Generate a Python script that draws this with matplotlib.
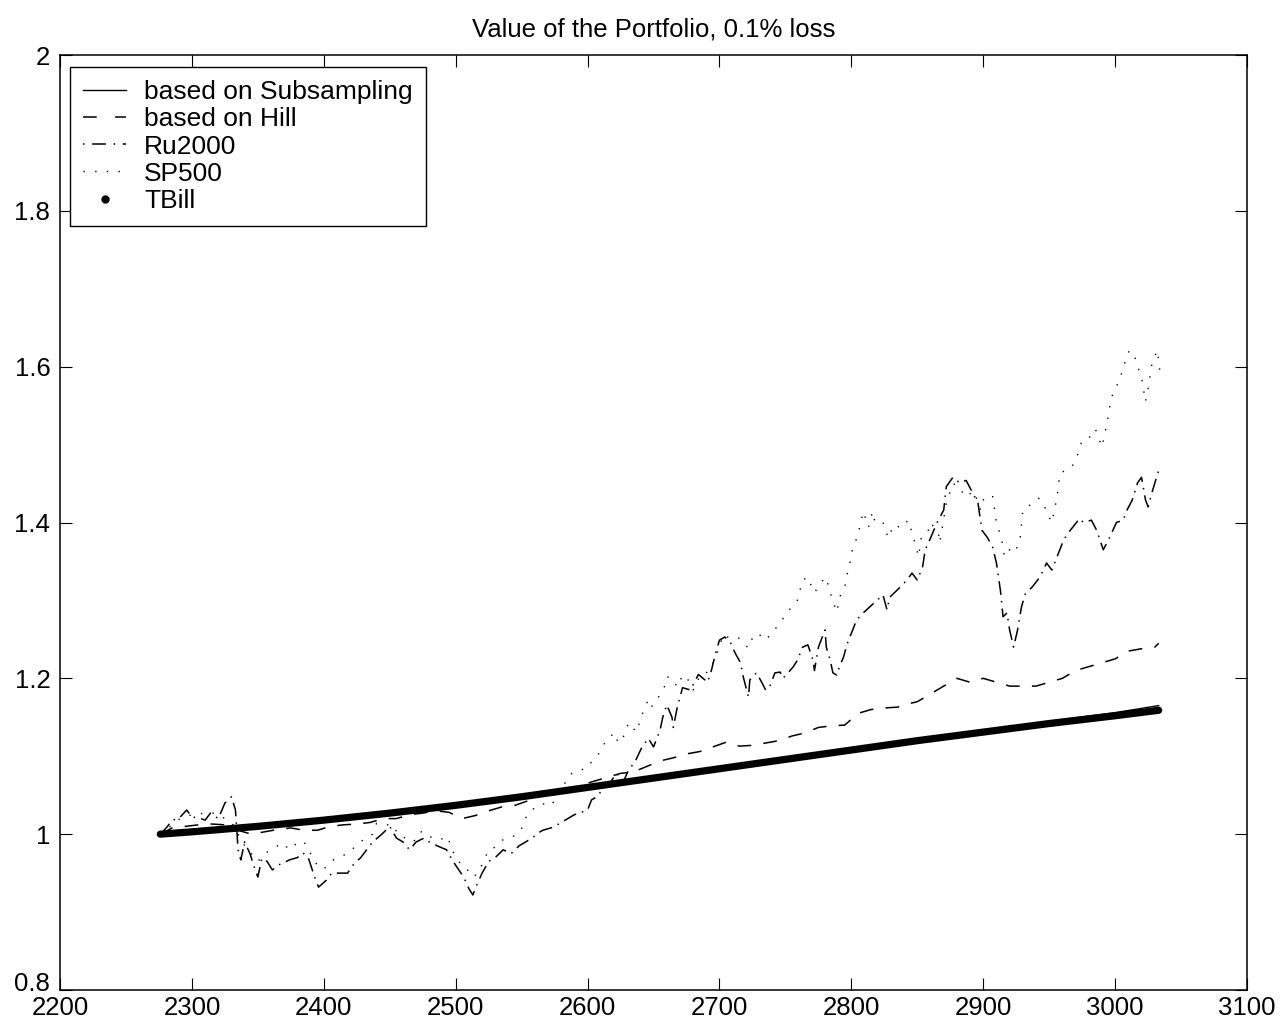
import matplotlib
matplotlib.use("Agg")
import matplotlib.pyplot as plt
from matplotlib.lines import Line2D
from matplotlib.transforms import ScaledTranslation

plt.rcParams['font.family'] = ['Liberation Sans', 'DejaVu Sans']

# ---- data ----
tbill_x = [2276, 2300, 2350, 2400, 2450, 2500, 2550, 2600, 2650, 2700, 2750, 2800, 2850, 2900, 2950, 3000, 3033]
tbill_y = [1.000, 1.003, 1.010, 1.018, 1.027, 1.037, 1.048, 1.060, 1.072, 1.084, 1.096, 1.108, 1.120, 1.131, 1.142, 1.152, 1.159]

subs_x = [2276, 2300, 2350, 2400, 2450, 2500, 2550, 2600, 2650, 2700, 2750, 2800, 2850, 2900, 2950, 3000, 3033]
subs_y = [1.000, 1.003, 1.010, 1.018, 1.027, 1.037, 1.048, 1.060, 1.072, 1.085, 1.097, 1.109, 1.121, 1.133, 1.145, 1.156, 1.165]

hill_x = [2276, 2285, 2295, 2305, 2315, 2325, 2335, 2345, 2355, 2365, 2375, 2385, 2395, 2405, 2415,
          2425, 2435, 2445, 2455, 2465, 2475, 2485, 2495, 2505, 2515, 2525, 2535, 2545, 2555, 2565,
          2575, 2585, 2595, 2605, 2615, 2625, 2635, 2645, 2655, 2665, 2675, 2685, 2695, 2705, 2715,
          2725, 2735, 2745, 2755, 2765, 2775, 2785, 2795, 2805, 2815, 2825, 2835, 2845, 2850, 2860,
          2870, 2880, 2890, 2900, 2910, 2920, 2930, 2940, 2950, 2960, 2970, 2980, 2990, 3000, 3010,
          3020, 3030, 3033]
hill_y = [1.000, 1.008, 1.010, 1.012, 1.013, 1.012, 1.005, 1.000, 1.003, 1.006, 1.008, 1.005, 1.005, 1.010, 1.012,
          1.013, 1.015, 1.020, 1.020, 1.025, 1.027, 1.030, 1.028, 1.020, 1.024, 1.030, 1.035, 1.037, 1.043, 1.050,
          1.055, 1.058, 1.063, 1.068, 1.073, 1.078, 1.080, 1.087, 1.094, 1.098, 1.103, 1.106, 1.112, 1.118, 1.113,
          1.114, 1.117, 1.120, 1.126, 1.130, 1.137, 1.139, 1.140, 1.155, 1.160, 1.162, 1.163, 1.168, 1.170, 1.180,
          1.190, 1.200, 1.195, 1.200, 1.195, 1.190, 1.190, 1.190, 1.195, 1.200, 1.210, 1.215, 1.220, 1.225, 1.235,
          1.238, 1.240, 1.245]

ru_x = [2276, 2281, 2285, 2290, 2296, 2300, 2305, 2310, 2314, 2320, 2325, 2330, 2333, 2335, 2337, 2340, 2344,
        2348, 2350, 2353, 2357, 2361, 2365, 2369, 2374, 2380, 2384, 2388, 2393, 2396, 2402, 2406, 2412, 2418,
        2422, 2428, 2437, 2444, 2450, 2455, 2460, 2465, 2470, 2476, 2480, 2486, 2493, 2498, 2502, 2506, 2510,
        2513, 2516, 2520, 2525, 2530, 2536, 2542, 2548, 2553, 2558, 2562, 2566, 2574, 2581, 2590, 2600, 2603,
        2607, 2613, 2617, 2622, 2627, 2631, 2636, 2641, 2646, 2650, 2655, 2657, 2660, 2664, 2665, 2668, 2672,
        2678, 2684, 2691, 2694, 2697, 2700, 2704, 2708, 2712, 2716, 2718, 2722, 2723, 2728, 2732, 2735, 2738,
        2742, 2746, 2748, 2752, 2756, 2759, 2763, 2767, 2771, 2772, 2775, 2778, 2780, 2781, 2784, 2786, 2789,
        2791, 2794, 2797, 2800, 2804, 2809, 2818, 2824, 2827, 2829, 2837, 2842, 2846, 2850, 2854, 2856, 2860,
        2865, 2870, 2872, 2877, 2882, 2887, 2892, 2896, 2899, 2903, 2907, 2910, 2913, 2915, 2918, 2920, 2923,
        2926, 2929, 2932, 2937, 2943, 2948, 2952, 2956, 2961, 2966, 2973, 2976, 2982, 2986, 2991, 2995, 3001,
        3006, 3009, 3013, 3017, 3020, 3023, 3025, 3028, 3033]
ru_y = [1.000, 1.009, 1.018, 1.020, 1.031, 1.022, 1.021, 1.018, 1.027, 1.020, 1.040, 1.048, 1.031, 0.980, 0.967, 0.990, 0.975,
        0.954, 0.945, 0.969, 0.965, 0.954, 0.960, 0.963, 0.967, 0.970, 0.976, 0.971, 0.945, 0.932, 0.941, 0.950, 0.950, 0.950,
        0.960, 0.970, 0.990, 1.000, 1.010, 0.995, 0.990, 0.980, 0.990, 0.995, 0.990, 0.985, 0.980, 0.965, 0.955, 0.945, 0.930,
        0.922, 0.935, 0.950, 0.965, 0.970, 0.980, 0.975, 0.985, 0.990, 0.995, 1.001, 1.005, 1.009, 1.016, 1.025, 1.031, 1.044,
        1.048, 1.061, 1.066, 1.078, 1.067, 1.082, 1.093, 1.111, 1.123, 1.112, 1.134, 1.150, 1.166, 1.150, 1.137, 1.163, 1.188,
        1.185, 1.205, 1.195, 1.211, 1.232, 1.249, 1.253, 1.247, 1.232, 1.220, 1.202, 1.176, 1.198, 1.207, 1.195, 1.185, 1.189,
        1.207, 1.208, 1.200, 1.207, 1.215, 1.223, 1.240, 1.243, 1.223, 1.210, 1.240, 1.253, 1.262, 1.240, 1.223, 1.207, 1.204,
        1.215, 1.227, 1.245, 1.258, 1.275, 1.284, 1.298, 1.307, 1.288, 1.304, 1.317, 1.326, 1.335, 1.326, 1.343, 1.365, 1.380,
        1.400, 1.416, 1.446, 1.458, 1.451, 1.454, 1.438, 1.425, 1.390, 1.381, 1.369, 1.348, 1.313, 1.279, 1.284, 1.262, 1.240,
        1.262, 1.292, 1.309, 1.317, 1.330, 1.348, 1.339, 1.356, 1.378, 1.390, 1.405, 1.400, 1.403, 1.390, 1.365, 1.378, 1.400,
        1.403, 1.416, 1.429, 1.451, 1.458, 1.429, 1.420, 1.439, 1.467]

sp_x = [2276, 2282, 2291, 2300, 2310, 2318, 2325, 2330, 2335, 2340, 2345, 2350, 2355, 2360, 2365, 2370, 2375, 2380,
        2385, 2390, 2395, 2400, 2405, 2412, 2418, 2425, 2430, 2437, 2440, 2448, 2452, 2457, 2462, 2468, 2473, 2477,
        2482, 2488, 2494, 2497, 2501, 2505, 2509, 2513, 2517, 2521, 2525, 2531, 2536, 2541, 2547, 2551, 2554, 2558,
        2562, 2566, 2573, 2579, 2584, 2588, 2594, 2600, 2603, 2608, 2612, 2615, 2621, 2623, 2628, 2631, 2637, 2643,
        2646, 2648, 2653, 2655, 2659, 2660, 2664, 2668, 2672, 2675, 2680, 2683, 2685, 2691, 2694, 2698, 2703, 2706,
        2714, 2718, 2722, 2725, 2729, 2735, 2740, 2746, 2751, 2755, 2759, 2763, 2767, 2770, 2772, 2780, 2782, 2785,
        2789, 2791, 2795, 2797, 2799, 2801, 2805, 2809, 2813, 2816, 2818, 2824, 2828, 2832, 2838, 2843, 2847, 2851,
        2853, 2858, 2860, 2866, 2867, 2872, 2877, 2882, 2886, 2893, 2898, 2900, 2907, 2910, 2914, 2916, 2920, 2924,
        2928, 2930, 2935, 2942, 2945, 2949, 2952, 2956, 2958, 2967, 2971, 2975, 2981, 2985, 2990, 2994, 2997, 3001,
        3005, 3009, 3011, 3015, 3017, 3020, 3023, 3025, 3028, 3032, 3034]
sp_y = [1.000, 1.008, 1.020, 1.025, 1.027, 1.027, 1.020, 1.015, 1.000, 0.985, 0.975, 0.965, 0.975, 0.980, 0.985, 0.980, 0.990, 0.985,
        0.990, 0.975, 0.960, 0.955, 0.965, 0.971, 0.975, 0.986, 0.993, 1.000, 1.014, 1.012, 1.012, 0.998, 0.995, 0.990, 1.003, 1.003,
        0.995, 0.993, 0.997, 0.980, 0.969, 0.958, 0.954, 0.945, 0.950, 0.965, 0.980, 0.984, 0.993, 0.995, 1.000, 1.010, 1.025, 1.031,
        1.037, 1.039, 1.037, 1.061, 1.067, 1.078, 1.082, 1.085, 1.093, 1.102, 1.114, 1.123, 1.130, 1.117, 1.127, 1.143, 1.131, 1.162,
        1.172, 1.163, 1.172, 1.182, 1.191, 1.202, 1.200, 1.189, 1.204, 1.202, 1.185, 1.194, 1.204, 1.208, 1.215, 1.232, 1.256, 1.253,
        1.253, 1.245, 1.239, 1.252, 1.258, 1.249, 1.259, 1.271, 1.284, 1.292, 1.300, 1.326, 1.330, 1.317, 1.310, 1.330, 1.322, 1.304,
        1.285, 1.304, 1.317, 1.335, 1.349, 1.367, 1.384, 1.414, 1.394, 1.414, 1.400, 1.400, 1.380, 1.397, 1.393, 1.403, 1.381, 1.356,
        1.381, 1.388, 1.400, 1.386, 1.374, 1.425, 1.450, 1.446, 1.433, 1.440, 1.416, 1.429, 1.435, 1.400, 1.378, 1.356, 1.365, 1.361,
        1.380, 1.416, 1.422, 1.431, 1.427, 1.410, 1.400, 1.433, 1.463, 1.471, 1.484, 1.506, 1.510, 1.520, 1.497, 1.529, 1.560, 1.574,
        1.592, 1.615, 1.621, 1.612, 1.600, 1.587, 1.555, 1.572, 1.605, 1.621, 1.593]

labels = ['based on Subsampling', 'based on Hill', 'Ru2000', 'SP500', 'TBill']
x_ticks = [2200, 2300, 2400, 2500, 2600, 2700, 2800, 2900, 3000, 3100]
y_ticks = [0.8, 1.0, 1.2, 1.4, 1.6, 1.8, 2.0]
y_ticklabels = ['0.8', '1', '1.2', '1.4', '1.6', '1.8', '2']
title = 'Value of the Portfolio, 0.1% loss'

DASH = (0, (9, 8))
DASHDOT = (0, (9, 4, 1, 4))
DOT = (0, (1, 7.4))

# ---- figure ----
fig = plt.figure(figsize=(12.86, 10.32), dpi=100)
ax = fig.add_axes([0.0467, 0.0407, 0.9230, 0.9060])

ax.plot(tbill_x, tbill_y, color='black', lw=5.2, solid_capstyle='round', zorder=2)
ax.plot(subs_x, subs_y, color='black', lw=1.0, ls='-', zorder=3)
ax.plot(hill_x, hill_y, color='black', lw=1.1, ls=DASH, zorder=3)
ax.plot(ru_x, ru_y, color='black', lw=1.1, ls=DASHDOT, zorder=3)
ax.plot(sp_x, sp_y, color='black', lw=1.0, ls=DOT, zorder=3)

ax.set_xlim(2200, 3100)
ax.set_ylim(0.8, 2.0)
ax.set_xticks(x_ticks)
ax.set_yticks(y_ticks)
ax.set_yticklabels(y_ticklabels)
ax.tick_params(direction='in', length=8.6, width=0.8, top=True, right=True,
               labelsize=18.5, colors='black')
ax.tick_params(axis='x', pad=4)
ax.tick_params(axis='y', pad=7)
for s in ax.spines.values():
    s.set_linewidth(1.1)
    s.set_color('black')
ax.set_title(title, fontsize=18.5, pad=13)

# nudge the lowest y label up slightly, as in the reference where it sits above "2200"
ylabels = ax.get_yticklabels()
ylabels[0].set_transform(ylabels[0].get_transform() + ScaledTranslation(0, 6 / 72, fig.dpi_scale_trans))

handles = [
    Line2D([], [], color='black', lw=1.0, ls='-'),
    Line2D([], [], color='black', lw=1.1, ls=(0, (9, 12))),
    Line2D([], [], color='black', lw=1.1, ls=(0, (1, 5, 9, 5))),
    Line2D([], [], color='black', lw=1.0, ls=DOT),
    Line2D([], [], color='black', marker='o', markersize=5, ls='None'),
]
leg = ax.legend(handles, labels, loc='upper left', bbox_to_anchor=(0.0084, 0.9872),
                borderaxespad=0, fontsize=19, frameon=True, fancybox=False,
                edgecolor='black', framealpha=1, handlelength=1.63, handletextpad=0.68,
                labelspacing=0.12, borderpad=0.5)
leg.get_frame().set_linewidth(1.0)

fig.savefig('out.png', dpi=100)
